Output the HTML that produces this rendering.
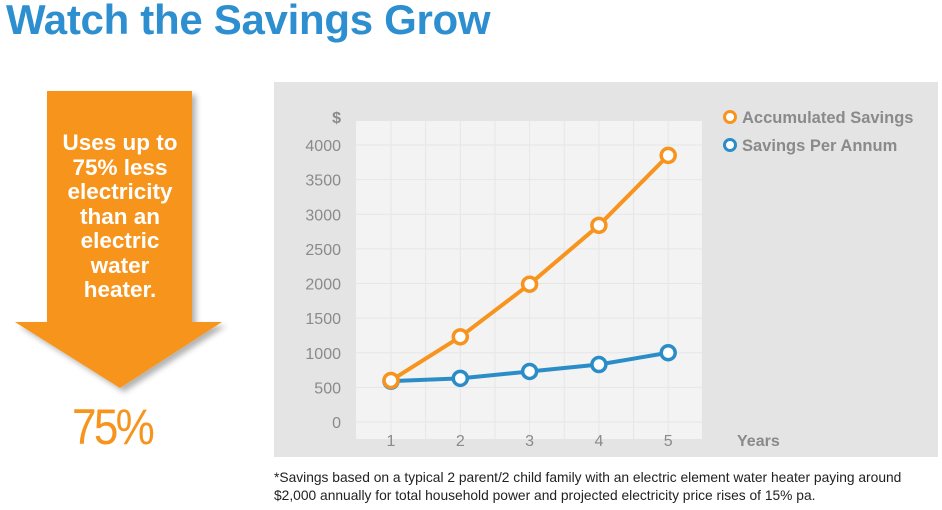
<!DOCTYPE html>
<html><head><meta charset="utf-8"><style>
body{margin:0;width:942px;height:510px;background:#fff;font-family:"Liberation Sans",sans-serif;position:relative;overflow:hidden}
.t{position:absolute}
</style></head><body>
<div class="t" style="left:6px;top:-4px;font-size:42px;font-weight:bold;color:#2d8fcf;letter-spacing:-0.3px">Watch the Savings Grow</div>
<svg class="t" style="left:0;top:0" width="270" height="470">
<defs><filter id="sh"><feDropShadow dx="4" dy="4" stdDeviation="3" flood-color="#000" flood-opacity="0.3"/></filter></defs>
<polygon points="47,91 192,91 192,322 222,322 120,388 15,322 47,322" fill="#f7941d" filter="url(#sh)"/>
</svg>
<div class="t" style="left:30px;top:131px;width:180px;text-align:center;color:#fff;font-weight:bold;font-size:22.5px;line-height:24.5px">Uses up to<br>75% less<br>electricity<br>than an<br>electric<br>water<br>heater.</div>
<div class="t" style="left:72px;top:398px;color:#f7941d;font-size:50px;letter-spacing:-3px;transform:scaleX(0.88);transform-origin:left">75%</div>
<svg class="t" id="chart" style="left:0;top:0" width="942" height="510"></svg>
<div class="t" style="left:274px;top:469px;font-size:13.8px;line-height:18px;color:#222;white-space:nowrap">*Savings based on a typical 2 parent/2 child family with an electric element water heater paying around<br>$2,000 annually for total household power and projected electricity price rises of 15% pa.</div>
<script>
const years=[1,2,3,4,5];
const accumulated=[600,1230,1990,2840,3850];
const perAnnum=[590,630,730,830,1000];
const yTicks=[0,500,1000,1500,2000,2500,3000,3500,4000];
const NS="http://www.w3.org/2000/svg";
const svg=document.getElementById('chart');
function X(v){return 391+(v-1)*69.3;}
function Y(v){return 422-v*(277/4000);}
function mk(tag,a,p){const e=document.createElementNS(NS,tag);for(const k in a)e.setAttribute(k,a[k]);(p||svg).appendChild(e);return e;}
let bg=mk('rect',{x:274,y:82,width:664,height:375,fill:'#e4e4e5'});


let pa=mk('rect',{x:356,y:121,width:346,height:318,fill:'#f3f3f3'});


yTicks.forEach(v=>{
 let g=mk('line',{x1:356,x2:702,y1:Y(v),y2:Y(v),stroke:'#e6e6e6','stroke-width':1});
 
 
 let t=mk('text',{x:341,y:Y(v)+6,'text-anchor':'end','font-size':16,fill:'#8a8a8a'});
 t.textContent=v;
 
 
});
let dl=mk('text',{x:341,y:123,'text-anchor':'end','font-size':16,'font-weight':'bold',fill:'#8a8a8a'});
dl.textContent='$';


[1.5,2.5,3.5,4.5].concat(years).forEach(v=>{
 let g=mk('line',{x1:X(v),x2:X(v),y1:121,y2:439,stroke:'#e6e6e6','stroke-width':1});
 
 
});
years.forEach(v=>{
 let t=mk('text',{x:X(v),y:446,'text-anchor':'middle','font-size':16,fill:'#8a8a8a'});
 t.textContent=v;
 
 
});
let yl=mk('text',{x:737,y:446,'font-size':16,'font-weight':'bold',fill:'#8a8a8a'});
yl.textContent='Years';


function series(vals,col,name){
 let p=mk('polyline',{points:vals.map((v,i)=>X(years[i])+','+Y(v)).join(' '),fill:'none',stroke:col,'stroke-width':4,'stroke-linejoin':'round'});
 
 
 vals.forEach((v,i)=>{
  let c=mk('circle',{cx:X(years[i]),cy:Y(v),r:7,fill:'#fff',stroke:col,'stroke-width':3.5});
  
  
 });
}
series(perAnnum,'#2a8dc8','per-annum');
series(accumulated,'#f7941d','accumulated');
[['Accumulated Savings','#f7941d',117],['Savings Per Annum','#2a8dc8',145]].forEach(l=>{
 let c=mk('circle',{cx:730,cy:l[2],r:5.5,fill:'#fff',stroke:l[1],'stroke-width':3});
 
 
 let t=mk('text',{x:742,y:l[2]+6,'font-size':16.5,'font-weight':'bold',fill:'#8a8a8a'});
 t.textContent=l[0];
 
 
});
</script>
</body></html>
